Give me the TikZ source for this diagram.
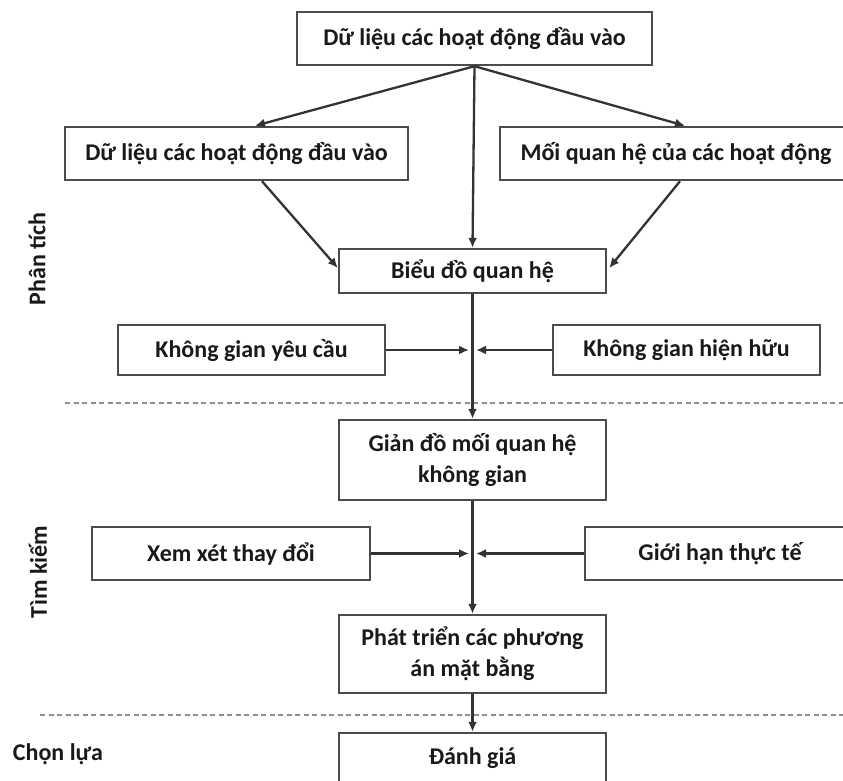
\documentclass[tikz,border=0pt]{standalone}
\usepackage{fontspec}
\setmainfont{Carlito}
\usetikzlibrary{arrows.meta,calc}
\begin{document}
\begin{tikzpicture}[x=1pt,y=-1pt,
  box/.style={draw=black!70,line width=2.4pt,fill=white,text=black!90,font=\bfseries\fontsize{24}{31}\selectfont,align=center,inner sep=0pt},
  arr/.style={draw=black!80,line width=2.3pt,-{Latex[length=10pt,width=9pt]}},
  sep/.style={draw=black!45,line width=1.6pt,dash pattern=on 5pt off 3.5pt},
  lab/.style={text=black!90,font=\bfseries\fontsize{24}{28}\selectfont,inner sep=0pt}]
\useasboundingbox (0,0) rectangle (843,781);
\node[box,minimum width=355,minimum height=53] (T) at (474.5,38.5) {Dữ liệu các hoạt động đầu vào};
\node[box,minimum width=343,minimum height=53] (L1) at (236.5,153.5) {Dữ liệu các hoạt động đầu vào};
\node[box,minimum width=352,minimum height=53] (R1) at (676,153.5) {Mối quan hệ của các hoạt động};
\node[box,minimum width=267,minimum height=44] (B) at (472.5,271) {Biểu đồ quan hệ};
\node[box,minimum width=267,minimum height=50] (K1) at (251.5,350) {Không gian yêu cầu};
\node[box,minimum width=267,minimum height=50] (K2) at (686.5,350) {Không gian hiện hữu};
\node[box,minimum width=267,minimum height=80] (G) at (472.5,460) {Giản đồ mối quan hệ\\không gian};
\node[box,minimum width=278,minimum height=53] (X) at (231,553.5) {Xem xét thay đổi};
\node[box,minimum width=270,minimum height=53] (H) at (720,553.5) {Giới hạn thực tế};
\node[box,minimum width=267,minimum height=78] (P) at (472.5,654) {Phát triển các phương\\án mặt bằng};
\node[box,minimum width=267,minimum height=50] (D) at (472.5,758) {Đánh giá};
\node[lab,rotate=90] (LA) at (37,259) {Phân tích};
\node[lab,rotate=90] (LB) at (38,572) {Tìm kiếm};
\node[lab] (LC) at (58,754) {Chọn lựa};
\coordinate (tl) at ($(L1.north)+(18.5,0)$);
\coordinate (tr) at ($(R1.north)+(9,0)$);
\coordinate (bl) at ($(L1.south)+(25.5,0)$);
\coordinate (br) at ($(R1.south)+(4,0)$);
\coordinate (bw) at ($(B.west)+(0,-3)$);
\coordinate (be) at ($(B.east)+(2,-3)$);
\coordinate (c1) at (469,350);
\coordinate (c2) at (476,350);
\coordinate (c3) at (469,553.5);
\coordinate (c4) at (476,553.5);
\coordinate (s1a) at (65,403);
\coordinate (s1b) at (843,403);
\coordinate (s2a) at (40,715);
\coordinate (s2b) at (843,715);
\draw[sep] (s1a) -- (s1b);
\draw[sep] (s2a) -- (s2b);
\draw[arr] (T.south) -- (tl);
\draw[arr] (T.south) -- (tr);
\draw[arr] (T.south) -- (B.north);
\draw[arr] (bl) -- (bw);
\draw[arr] (br) -- (be);
\draw[arr] (B.south) -- (G.north);
\draw[arr] (K1.east) -- (c1);
\draw[arr] (K2.west) -- (c2);
\draw[arr] (G.south) -- (P.north);
\draw[arr] (X.east) -- (c3);
\draw[arr] (H.west) -- (c4);
\draw[arr] (P.south) -- (D.north);
\end{tikzpicture}
\end{document}
